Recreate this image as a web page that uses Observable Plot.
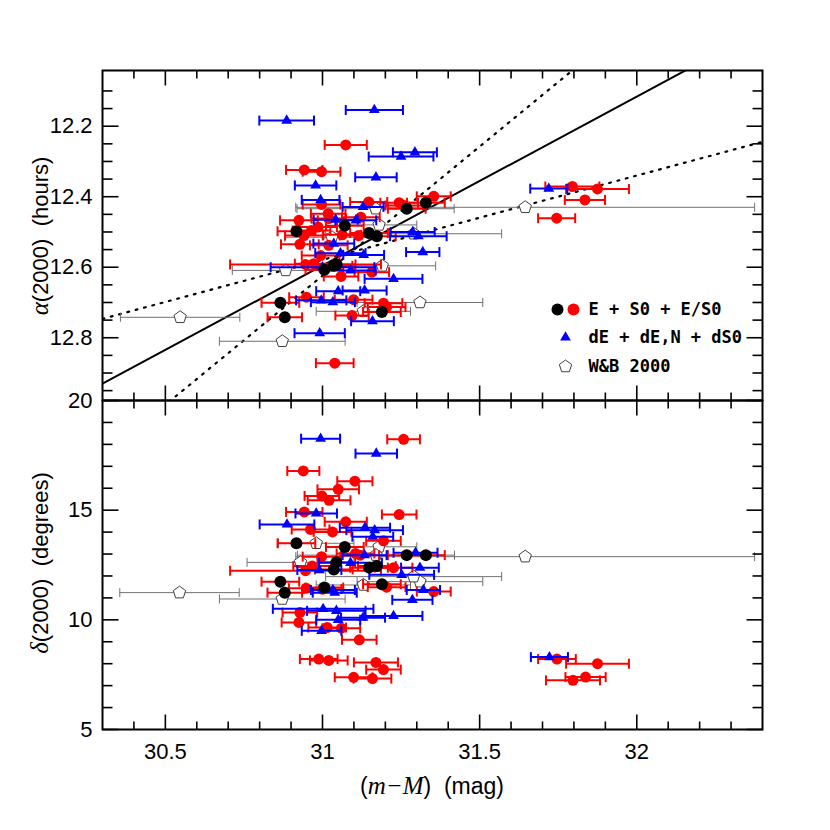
<!DOCTYPE html>
<html><head><meta charset="utf-8">
<script src="https://cdn.jsdelivr.net/npm/d3@7"></script>
<script src="https://cdn.jsdelivr.net/npm/@observablehq/plot@0.6"></script>
<style>
body{margin:0;background:#fff;}
#wrap{position:relative;width:830px;height:830px;background:#fff;}
#wrap svg{position:absolute;left:0;overflow:visible;}
</style></head><body><div id="wrap"></div>
<script>
// ---------- data: rows are [ (m-M), error, value ] ----------
const xDomain = [30.3, 32.4];
const xMajor = [30.5, 31, 31.5, 32];
const xMinor = [30.4, 30.6, 30.7, 30.8, 30.9, 31.1, 31.2, 31.3, 31.4, 31.6, 31.7, 31.8, 31.9, 32.1, 32.2, 32.3];
const raDomain = [12.978, 12.042];
const raMajor = [12.2, 12.4, 12.6, 12.8];
const raMinor = [12.1, 12.15, 12.25, 12.3, 12.35, 12.45, 12.5, 12.55, 12.65, 12.7, 12.75, 12.85, 12.9, 12.95];
const decDomain = [5, 20];
const decMajor = [5, 10, 15, 20];
const decMinor = [6, 7, 8, 9, 11, 12, 13, 14, 16, 17, 18, 19];

// top panel: alpha(2000) in hours
const raBlack = [
  [30.917, 0.06, 12.498], [31.071, 0.06, 12.482], [31.148, 0.06, 12.503], [31.173, 0.06, 12.512],
  [31.268, 0.06, 12.434], [31.329, 0.06, 12.417], [31.006, 0.06, 12.607], [31.035, 0.06, 12.596],
  [31.045, 0.06, 12.592], [30.866, 0.06, 12.701], [30.880, 0.055, 12.742], [31.189, 0.06, 12.727]
];
const raRed = [
  [31.074, 0.067, 12.253], [30.942, 0.058, 12.324], [30.997, 0.06, 12.329], [31.147, 0.059, 12.415],
  [31.354, 0.054, 12.399], [31.244, 0.06, 12.417], [31.260, 0.06, 12.425], [30.997, 0.06, 12.422],
  [31.018, 0.055, 12.448], [30.925, 0.06, 12.467], [31.122, 0.06, 12.458], [31.020, 0.055, 12.462],
  [30.986, 0.06, 12.486], [30.965, 0.06, 12.496], [30.941, 0.06, 12.510], [30.928, 0.06, 12.535],
  [31.063, 0.06, 12.508], [31.115, 0.06, 12.510], [31.020, 0.06, 12.538], [30.994, 0.06, 12.567],
  [30.946, 0.24, 12.592], [30.972, 0.06, 12.590], [31.059, 0.055, 12.626], [31.157, 0.055, 12.614],
  [30.949, 0.055, 12.685], [31.099, 0.06, 12.692], [31.194, 0.06, 12.702], [31.204, 0.06, 12.713],
  [31.094, 0.053, 12.737], [31.039, 0.06, 12.872], [31.795, 0.086, 12.371], [31.875, 0.10, 12.378],
  [31.835, 0.064, 12.409], [31.745, 0.059, 12.461]
];
const raBlue = [
  [30.886, 0.087, 12.184], [31.165, 0.091, 12.154], [31.294, 0.07, 12.274], [31.250, 0.103, 12.286],
  [31.170, 0.066, 12.345], [30.978, 0.066, 12.368], [30.994, 0.06, 12.409], [31.129, 0.065, 12.429],
  [31.042, 0.07, 12.465], [31.106, 0.065, 12.467], [31.287, 0.07, 12.500], [31.305, 0.09, 12.512],
  [31.319, 0.053, 12.557], [31.036, 0.065, 12.533], [31.057, 0.08, 12.560], [31.131, 0.065, 12.565],
  [31.089, 0.08, 12.609], [31.000, 0.165, 12.600], [31.226, 0.092, 12.633], [31.050, 0.07, 12.668],
  [31.134, 0.07, 12.666], [30.996, 0.08, 12.694], [31.033, 0.07, 12.699], [31.159, 0.068, 12.753],
  [30.991, 0.08, 12.787], [31.720, 0.059, 12.377]
];
const raWB = [
  [30.547, 0.19, 12.742], [30.872, 0.20, 12.810], [30.883, 0.17, 12.609], [31.169, 0.25, 12.434],
  [31.180, 0.12, 12.480], [31.030, 0.15, 12.515], [31.190, 0.17, 12.596], [31.310, 0.20, 12.700],
  [31.130, 0.15, 12.725], [31.645, 0.73, 12.430], [31.290, 0.28, 12.505]
];
// fit lines, alpha = a + b * ((m-M) - 31)
const fitA = [12.595, 12.579, 12.624];
const fitB = [-0.479, -0.239, -0.7325];
const fitStyle = ["solid", "dotted", "dotted"];

// bottom panel: delta(2000) in degrees
const decBlack = [
  [30.917, 0.06, 13.49], [31.071, 0.06, 13.32], [31.268, 0.06, 12.95], [31.329, 0.06, 12.95],
  [31.044, 0.06, 12.62], [31.036, 0.06, 12.30], [31.148, 0.06, 12.38], [31.173, 0.06, 12.45],
  [30.866, 0.06, 11.74], [30.880, 0.055, 11.24], [31.006, 0.06, 11.47], [31.189, 0.06, 11.62]
];
const decRed = [
  [31.258, 0.052, 18.23], [30.939, 0.051, 16.79], [31.103, 0.056, 16.32], [31.050, 0.066, 15.95],
  [30.998, 0.055, 15.65], [31.021, 0.068, 15.45], [30.942, 0.058, 14.92], [31.244, 0.055, 14.80],
  [31.074, 0.067, 14.47], [30.962, 0.06, 14.12], [31.032, 0.06, 14.01], [31.194, 0.055, 13.60],
  [30.997, 0.06, 12.88], [31.105, 0.06, 13.03], [31.120, 0.06, 12.95], [30.946, 0.24, 12.24],
  [30.967, 0.06, 12.45], [31.226, 0.06, 12.38], [30.948, 0.055, 11.44], [31.000, 0.06, 11.40],
  [31.204, 0.06, 11.49], [31.354, 0.054, 11.29], [30.928, 0.055, 10.33], [30.925, 0.055, 9.88],
  [31.015, 0.06, 9.65], [31.060, 0.06, 9.62], [31.117, 0.055, 9.09], [30.988, 0.06, 8.21],
  [31.020, 0.06, 8.15], [31.170, 0.07, 8.06], [31.194, 0.055, 7.73], [31.099, 0.06, 7.38],
  [31.159, 0.06, 7.32], [31.746, 0.06, 8.21], [31.875, 0.10, 8.00], [31.837, 0.064, 7.39],
  [31.797, 0.086, 7.24]
];
const decBlue = [
  [30.994, 0.062, 18.26], [31.171, 0.066, 17.58], [30.980, 0.066, 14.85], [30.887, 0.087, 14.35],
  [31.135, 0.08, 14.20], [31.166, 0.09, 14.09], [31.160, 0.065, 13.79], [31.134, 0.07, 12.95],
  [31.296, 0.07, 13.06], [30.990, 0.07, 12.27], [31.089, 0.10, 12.60], [31.310, 0.06, 12.38],
  [31.252, 0.103, 12.05], [31.033, 0.07, 11.36], [31.039, 0.07, 11.24], [31.321, 0.053, 11.36],
  [31.286, 0.064, 10.91], [31.002, 0.16, 10.50], [31.044, 0.093, 10.41], [31.050, 0.07, 10.00],
  [31.129, 0.07, 10.10], [31.226, 0.092, 10.18], [30.997, 0.063, 9.50], [31.722, 0.059, 8.30]
];
const decWB = [
  [30.545, 0.19, 11.24], [30.872, 0.20, 10.95], [30.980, 0.12, 13.49], [30.930, 0.17, 12.62],
  [31.180, 0.12, 13.33], [31.130, 0.15, 11.59], [31.310, 0.20, 11.74], [31.290, 0.28, 11.97],
  [31.645, 0.73, 12.88], [31.170, 0.25, 12.95]
];
const legendLabels = ["E + S0 + E/S0", "dE + dE,N + dS0", "W&B 2000"];

// ---------- symbols ----------
const vSym = {draw(c, s) { const r = Math.sqrt(s / Math.PI); c.moveTo(0, -r); c.lineTo(0, r); }};
const hSym = {draw(c, s) { const r = Math.sqrt(s / Math.PI); c.moveTo(-r, 0); c.lineTo(r, 0); }};
const pentSym = {draw(c, s) {
  const r = Math.sqrt(s / Math.PI);
  for (let i = 0; i < 5; i++) {
    const a = -Math.PI / 2 + i * 2 * Math.PI / 5;
    const px = r * Math.cos(a), py = r * Math.sin(a);
    if (i === 0) c.moveTo(px, py); else c.lineTo(px, py);
  }
  c.closePath();
}};

const RED = "#ff0000", BLUE = "#0000ff", GRAY = "#707070";

function errBars(rows, color, sw, cap) {
  return [
    Plot.link(rows, {x1: d => d[0] - d[1], x2: d => d[0] + d[1], y1: d => d[2], y2: d => d[2], stroke: color, strokeWidth: sw}),
    Plot.dot(rows, {x: d => d[0] - d[1], y: d => d[2], symbol: vSym, r: cap, stroke: color, strokeWidth: sw}),
    Plot.dot(rows, {x: d => d[0] + d[1], y: d => d[2], symbol: vSym, r: cap, stroke: color, strokeWidth: sw})
  ];
}
function frameTicks(yMajor, yMinor) {
  const k = "black", w = 1.6;
  return [
    Plot.dot(xMajor, {x: d => d, frameAnchor: "bottom", symbol: vSym, r: 7.5, dy: -7.5, stroke: k, strokeWidth: w}),
    Plot.dot(xMinor, {x: d => d, frameAnchor: "bottom", symbol: vSym, r: 4, dy: -4, stroke: k, strokeWidth: w}),
    Plot.dot(xMajor, {x: d => d, frameAnchor: "top", symbol: vSym, r: 7.5, dy: 7.5, stroke: k, strokeWidth: w}),
    Plot.dot(xMinor, {x: d => d, frameAnchor: "top", symbol: vSym, r: 4, dy: 4, stroke: k, strokeWidth: w}),
    Plot.dot(yMajor, {y: d => d, frameAnchor: "left", symbol: hSym, r: 8, dx: 8, stroke: k, strokeWidth: w}),
    Plot.dot(yMinor, {y: d => d, frameAnchor: "left", symbol: hSym, r: 5, dx: 5, stroke: k, strokeWidth: w}),
    Plot.dot(yMajor, {y: d => d, frameAnchor: "right", symbol: hSym, r: 8, dx: -8, stroke: k, strokeWidth: w}),
    Plot.dot(yMinor, {y: d => d, frameAnchor: "right", symbol: hSym, r: 5, dx: -5, stroke: k, strokeWidth: w})
  ];
}
function groupMarks(wb, red, blue, black) {
  return [
    ...errBars(wb, GRAY, 1, 4.5),
    Plot.dot(wb, {x: d => d[0], y: d => d[2], symbol: pentSym, r: 6.5, stroke: "#404040", strokeWidth: 1, fill: "white"}),
    ...errBars(red, RED, 2, 5),
    ...errBars(black, RED, 2, 5),
    Plot.dot(red, {x: d => d[0], y: d => d[2], r: 5.5, fill: RED}),
    ...errBars(blue, BLUE, 2, 5),
    Plot.dot(blue, {x: d => d[0], y: d => d[2], symbol: "triangle", r: 4, fill: BLUE}),
    Plot.dot(black, {x: d => d[0], y: d => d[2], r: 6, fill: "black"})
  ];
}
const style = {fontFamily: "'Liberation Sans', Arial, sans-serif", fontSize: "22px", background: "transparent", overflow: "visible", color: "black"};

// fit line endpoints across the x domain
const fits = fitA.map((a, i) => xDomain.map(x => ({x, y: a + fitB[i] * (x - 31)})));
const legendRowDy = [239, 267, 296];

const topPlot = Plot.plot({
  width: 830, height: 400, marginLeft: 102, marginRight: 68, marginTop: 70, marginBottom: 0,
  style,
  x: {domain: xDomain, axis: null},
  y: {domain: raDomain, ticks: raMajor, tickSize: 0, tickPadding: 10, label: null, tickFormat: d => d.toFixed(1)},
  marks: [
    ...fits.map((f, i) => Plot.line(f, {x: "x", y: "y", stroke: "black", strokeWidth: fitStyle[i] === "solid" ? 2 : 2.2,
      strokeDasharray: fitStyle[i] === "solid" ? null : "1.8 6.8", clip: true})),
    ...groupMarks(raWB, raRed, raBlue, raBlack),
    // legend
    Plot.dot([0], {frameAnchor: "top-left", dx: 455, dy: legendRowDy[0], r: 6, fill: "black"}),
    Plot.dot([0], {frameAnchor: "top-left", dx: 471, dy: legendRowDy[0], r: 6, fill: RED}),
    Plot.dot([0], {frameAnchor: "top-left", dx: 463, dy: legendRowDy[1], r: 4, symbol: "triangle", fill: BLUE}),
    Plot.dot([0], {frameAnchor: "top-left", dx: 463, dy: legendRowDy[2], r: 6.5, symbol: pentSym, stroke: "#404040", strokeWidth: 1}),
    ...legendLabels.map((s, i) => Plot.text([s], {frameAnchor: "top-left", text: d => d, dx: 486, dy: legendRowDy[i],
      textAnchor: "start", lineAnchor: "middle", fontFamily: "'DejaVu Sans Mono', monospace", fontWeight: "bold", fontSize: 17})),
    ...frameTicks(raMajor, raMinor),
    Plot.frame({stroke: "black", strokeWidth: 2})
  ]
});

const bottomPlot = Plot.plot({
  width: 830, height: 430, marginLeft: 102, marginRight: 68, marginTop: 0, marginBottom: 101,
  style,
  x: {domain: xDomain, ticks: xMajor, tickSize: 0, tickPadding: 14, label: null, tickFormat: d => String(d)},
  y: {domain: decDomain, ticks: decMajor, tickSize: 0, tickPadding: 10, label: null},
  marks: [
    ...groupMarks(decWB, decRed, decBlue, decBlack),
    ...frameTicks(decMajor, decMinor),
    Plot.frame({stroke: "black", strokeWidth: 2})
  ]
});

const wrap = document.getElementById("wrap");
topPlot.style.top = "0px";
bottomPlot.style.top = "400px";
wrap.appendChild(topPlot);
wrap.appendChild(bottomPlot);

// axis titles
function ylab(svg, cx, cy, sym, rest) {
  const t = d3.select(svg).append("text")
    .attr("transform", `translate(${cx},${cy}) rotate(-90)`)
    .attr("text-anchor", "middle").attr("dy", "0.35em")
    .attr("font-size", 22).attr("font-family", "'Liberation Sans', Arial, sans-serif").attr("fill", "black");
  t.append("tspan").attr("font-style", "italic").attr("font-family", "'Liberation Serif', serif").attr("font-size", 25).text(sym);
  t.append("tspan").text(rest);
}
ylab(topPlot, 40, 236, "α", "(2000)  (hours)");
ylab(bottomPlot, 40, 163, "δ", "(2000)  (degrees)");
const xl = d3.select(bottomPlot).append("text").attr("x", 432).attr("y", 394)
  .attr("text-anchor", "middle").attr("font-size", 23).attr("fill", "black")
  .attr("font-family", "'Liberation Sans', Arial, sans-serif");
xl.append("tspan").text("(");
xl.append("tspan").attr("font-style", "italic").attr("font-family", "'Liberation Serif', serif").attr("font-size", 25).text("m−M");
xl.append("tspan").text(")  (mag)");
</script></body></html>
